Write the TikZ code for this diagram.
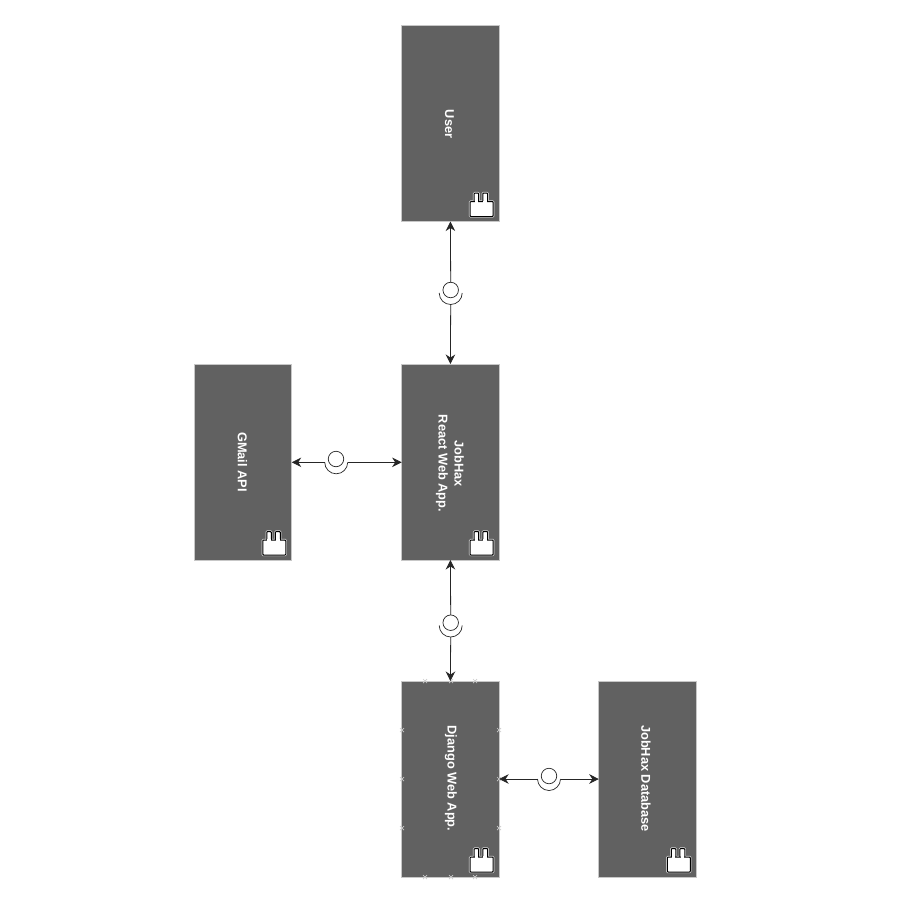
\documentclass[tikz,border=0pt]{standalone}
\usepackage{fontspec}
\setmainfont{Liberation Sans}
\usetikzlibrary{arrows.meta,calc}
\tikzset{
  comp/.style={draw=black!22,line width=1pt,fill=black!62,minimum width=97.5pt,minimum height=196pt,inner sep=0pt,outer sep=0pt},
  complabel/.style={rotate=-90,text=white,font=\bfseries\fontsize{12.8}{16}\selectfont,align=center,inner sep=0pt},
  link/.style={draw=black!85,line width=0.8pt,{Stealth[length=9.5pt,width=9.5pt]}-},
  ball/.style={circle,draw=black!85,line width=0.7pt,fill=white,minimum size=15.5pt,inner sep=0pt,outer sep=0pt},
  socket/.style={draw=black!85,line width=0.7pt},
  iconhalo/.style={draw=white!85!black,line width=2.4pt,rounded corners=0.8pt},
  iconpart/.style={draw=black,line width=1pt,fill=white,rounded corners=0.8pt},
  handle/.style={draw=black!20,line width=0.7pt}
}
\newcommand{\compicon}[1]{%
  \begin{scope}[shift={(#1.south east)}]
    \path[iconhalo] (-25,-19) rectangle (-20.5,-28.5);
    \path[iconhalo] (-16.3,-19) rectangle (-11.5,-28.5);
    \path[iconhalo] (-29,-5) rectangle (-6,-20);
    \path[iconpart] (-25,-19) rectangle (-20.5,-28.5);
    \path[iconpart] (-16.3,-19) rectangle (-11.5,-28.5);
    \path[iconpart] (-29,-5) rectangle (-6,-20);
    \path[fill=white] (-24.4,-19) rectangle (-21.1,-21);
    \path[fill=white] (-15.7,-19) rectangle (-12.1,-21);
  \end{scope}}
\newcommand{\hmark}[1]{\path[handle] ($(#1)+(-2,-2)$) -- ($(#1)+(2,2)$) ($(#1)+(-2,2)$) -- ($(#1)+(2,-2)$);}
\begin{document}
\begin{tikzpicture}[x=1pt,y=-1pt]
\useasboundingbox (0,0) rectangle (900,900);
\fill[white] (0,0) rectangle (900,900);
% components
\node[comp] (user) at (450.4,123.5) {};
\node[comp] (react) at (450.4,462) {};
\node[comp] (gmail) at (243,462) {};
\node[comp] (django) at (450.4,779) {};
\node[comp] (db) at (647.5,779) {};
% labels
\node[complabel] (userT) at (449.5,124) {User};
\node[complabel] (reactT) at (450,463.5) {JobHax\\React Web App.};
\node[complabel] (gmailT) at (242.5,462) {GMail API};
\node[complabel] (djangoT) at (451,778.5) {Django Web App.};
\node[complabel] (dbT) at (646,778.5) {JobHax Database};
% icons
\compicon{user}\compicon{react}\compicon{gmail}\compicon{django}\compicon{db}
% handles on Django box
\foreach \a/\b in {425/681,451/681,475/681,425/877,451/877,475/877,402/730,402/779,402/828,499/730,499/779,499/828}{
  \coordinate (h) at (\a,\b);
  \hmark{h}
}
% interface: user - react
\node[ball] (i1) at (450.7,290) {};
\coordinate (i1b) at (450.7,304.5);
\draw[socket] (439.2,293) arc[start angle=180,end angle=0,radius=11.5];
\draw[link] (user.south) -- (i1.north);
\draw[link] (react.north) -- (i1b);
% interface: gmail - react
\node[ball] (i2) at (336,459) {};
\coordinate (i2l) at (324.7,462.3);
\coordinate (i2r) at (347.7,462.3);
\draw[socket] (i2l) arc[start angle=180,end angle=0,radius=11.5];
\draw[link] (gmail.east |- i2l) -- (i2l);
\draw[link] (react.west |- i2r) -- (i2r);
% interface: react - django
\node[ball] (i3) at (450.7,622.7) {};
\coordinate (i3b) at (450.7,637);
\draw[socket] (439.2,625.5) arc[start angle=180,end angle=0,radius=11.5];
\draw[link] (react.south) -- (i3.north);
\draw[link] (django.north) -- (i3b);
% interface: django - db
\node[ball] (i4) at (549,776) {};
\coordinate (i4l) at (537.5,779);
\coordinate (i4r) at (560.5,779);
\draw[socket] (i4l) arc[start angle=180,end angle=0,radius=11.5];
\draw[link] (django.east) -- (i4l);
\draw[link] (db.west) -- (i4r);
\end{tikzpicture}
\end{document}
